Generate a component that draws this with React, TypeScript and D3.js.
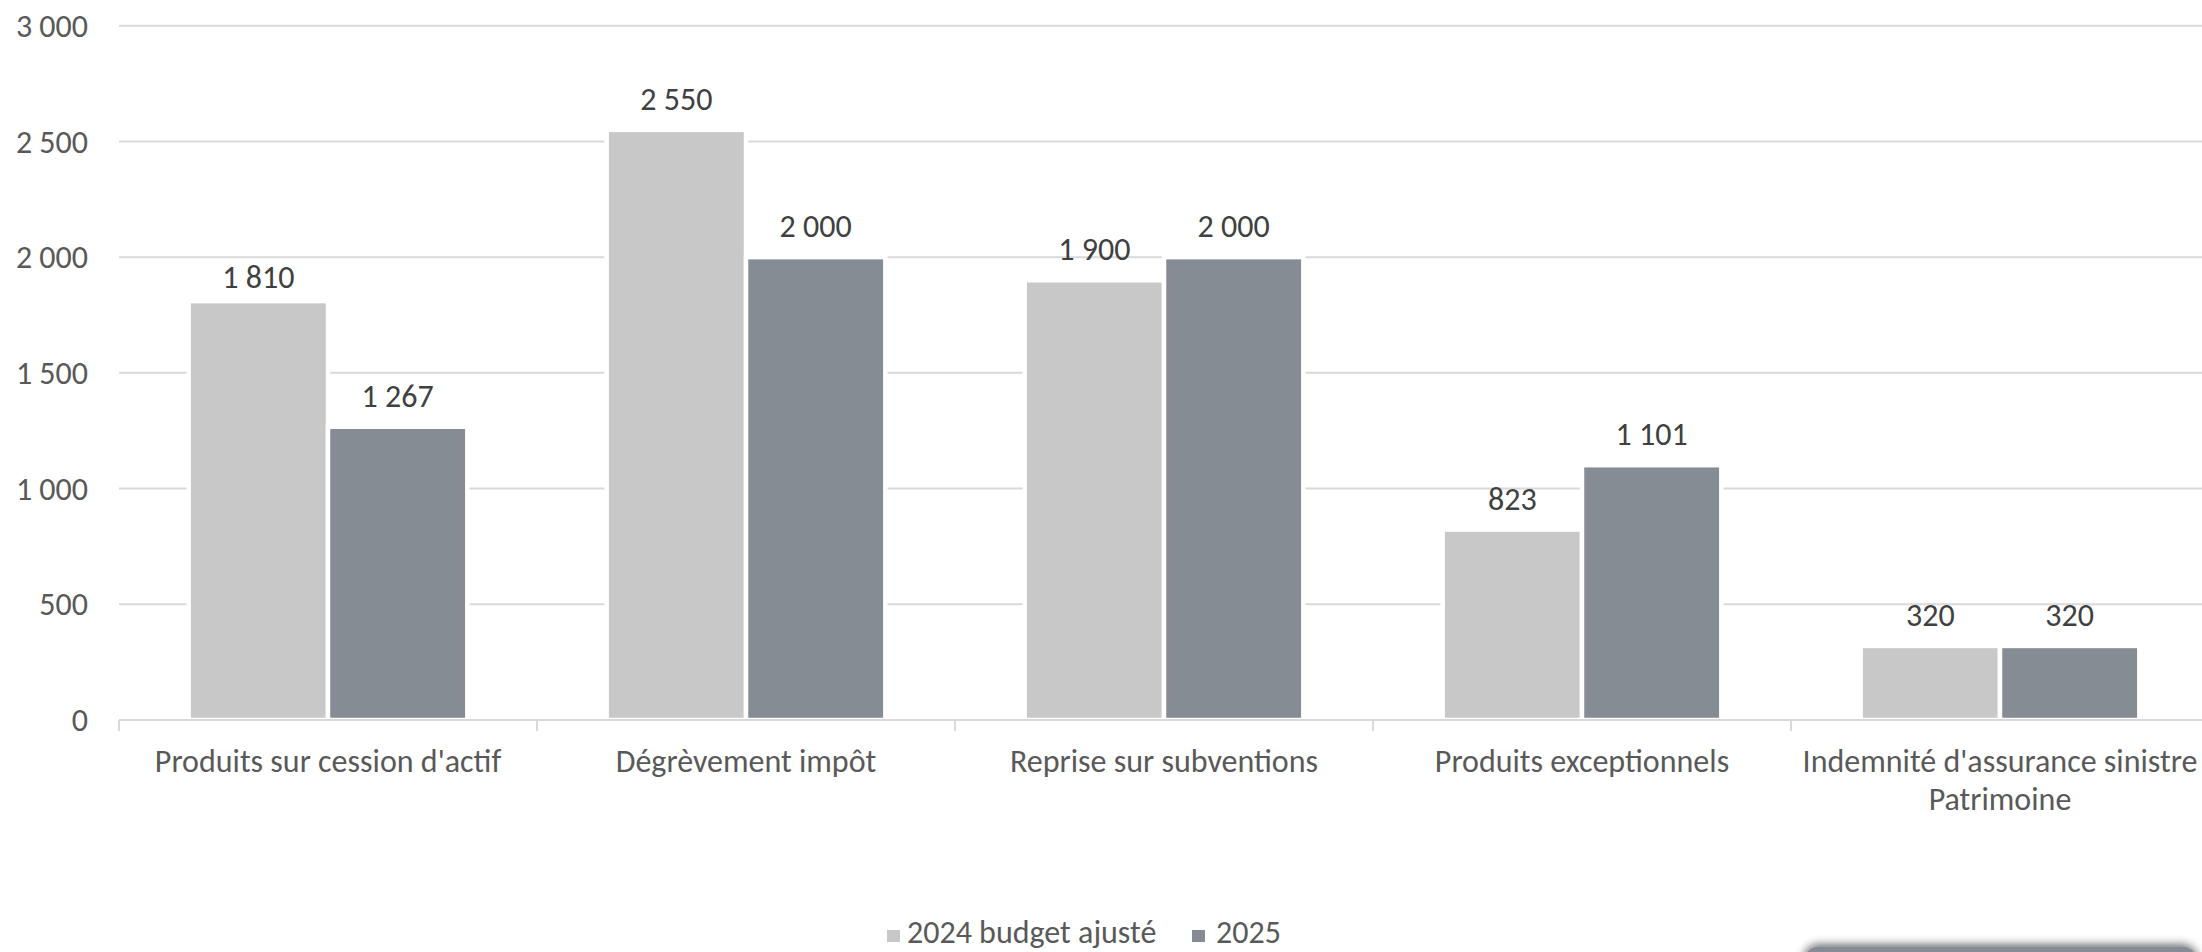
import React from "react";
import * as d3 from "d3";

const categories = [
  "Produits sur cession d'actif",
  "Dégrèvement impôt",
  "Reprise sur subventions",
  "Produits exceptionnels",
  "Indemnité d'assurance sinistre Patrimoine",
];
const categoryLines = [
  ["Produits sur cession d'actif"],
  ["Dégrèvement impôt"],
  ["Reprise sur subventions"],
  ["Produits exceptionnels"],
  ["Indemnité d'assurance sinistre", "Patrimoine"],
];
const seriesNames = ["2024 budget ajusté", "2025"];
const values2024 = [1810, 2550, 1900, 823, 320];
const values2025 = [1267, 2000, 2000, 1101, 320];
const yTicks = [0, 500, 1000, 1500, 2000, 2500, 3000];
const colors = ["#C8C8C8", "#868C93"];

const W = 2202;
const H = 952;
const FONT = "Calibri, Carlito, Lato, sans-serif";
const FS = 32;

const fmt = (v: number) => d3.format(",")(v).replace(/,/g, " ");

export default function App() {
  const y = d3.scaleLinear().domain([0, 3000]).range([720, 25.7]);
  const x0 = d3.scaleBand<string>().domain(categories).range([119, 2209]).padding(0);
  const step = x0.step();
  const slot = step / 3;
  const x1 = d3.scaleBand<string>().domain(seriesNames).range([step / 6, step / 6 + 2 * slot]).padding(0);
  const series = [values2024, values2025];
  // the first label sits a little lower in the original (moved by hand)
  const labelShift = (ci: number, si: number) => (ci === 0 && si === 0 ? 6.6 : 0);

  return (
    <div style={{ position: "absolute", left: 0, top: 0 }}>
      <svg width={W} height={H} style={{ display: "block", background: "#fff" }} fontFamily={FONT}>
        <defs>
          <filter id="shadow" x="-10%" y="-100%" width="120%" height="300%">
            <feGaussianBlur in="SourceAlpha" stdDeviation="5" />
            <feOffset dx="0" dy="-2" result="b" />
            <feComponentTransfer><feFuncA type="linear" slope="0.6" /></feComponentTransfer>
            <feMerge><feMergeNode /><feMergeNode in="SourceGraphic" /></feMerge>
          </filter>
        </defs>
        {yTicks.filter((t) => t > 0).map((t) => (
          <line key={t} x1={119} x2={W} y1={y(t)} y2={y(t)} stroke="#D9D9D9" strokeWidth={2} />
        ))}
        {yTicks.map((t) => (
          <text key={t} x={88} y={y(t)} dy="0.35em" textAnchor="end" fontSize={FS} fill="#595959">
            {fmt(t)}
          </text>
        ))}
        {categories.map((c, ci) =>
          seriesNames.map((s, si) => {
            const v = series[si][ci];
            const bx = (x0(c) as number) + (x1(s) as number);
            return (
              <rect key={c + s} x={bx} y={y(v)} width={x1.bandwidth()} height={y(0) - y(v)}
                fill={colors[si]} stroke="#fff" strokeWidth={4.5} />
            );
          })
        )}
        <line x1={119} x2={W} y1={720} y2={720} stroke="#D9D9D9" strokeWidth={2} />
        {categories.map((c) => (
          <line key={c} x1={x0(c)} x2={x0(c)} y1={720} y2={731} stroke="#D9D9D9" strokeWidth={2} />
        ))}
        {categories.map((c, ci) =>
          seriesNames.map((s, si) => {
            const v = series[si][ci];
            const cx = (x0(c) as number) + (x1(s) as number) + x1.bandwidth() / 2;
            return (
              <text key={c + s} x={cx} y={y(v) - 20 + labelShift(ci, si)} textAnchor="middle" fontSize={FS} fill="#404040">
                {fmt(v)}
              </text>
            );
          })
        )}
        {categories.map((c, ci) => (
          <text key={c} x={(x0(c) as number) + step / 2} y={772} textAnchor="middle" fontSize={FS} fill="#595959">
            {categoryLines[ci].map((ln, li) => (
              <tspan key={li} x={(x0(c) as number) + step / 2} dy={li === 0 ? 0 : 37.5}>{ln}</tspan>
            ))}
          </text>
        ))}
        <g>
          <rect x={887} y={930} width={13} height={12} fill={colors[0]} />
          <text x={907} y={943} fontSize={FS} fill="#595959">{seriesNames[0]}</text>
          <rect x={1192} y={930} width={13} height={12} fill={colors[1]} />
          <text x={1216} y={943} fontSize={FS} fill="#595959">{seriesNames[1]}</text>
        </g>
        <rect x={1803} y={946.5} width={395} height={40} rx={16} fill="#868C93" filter="url(#shadow)" />
      </svg>
    </div>
  );
}
